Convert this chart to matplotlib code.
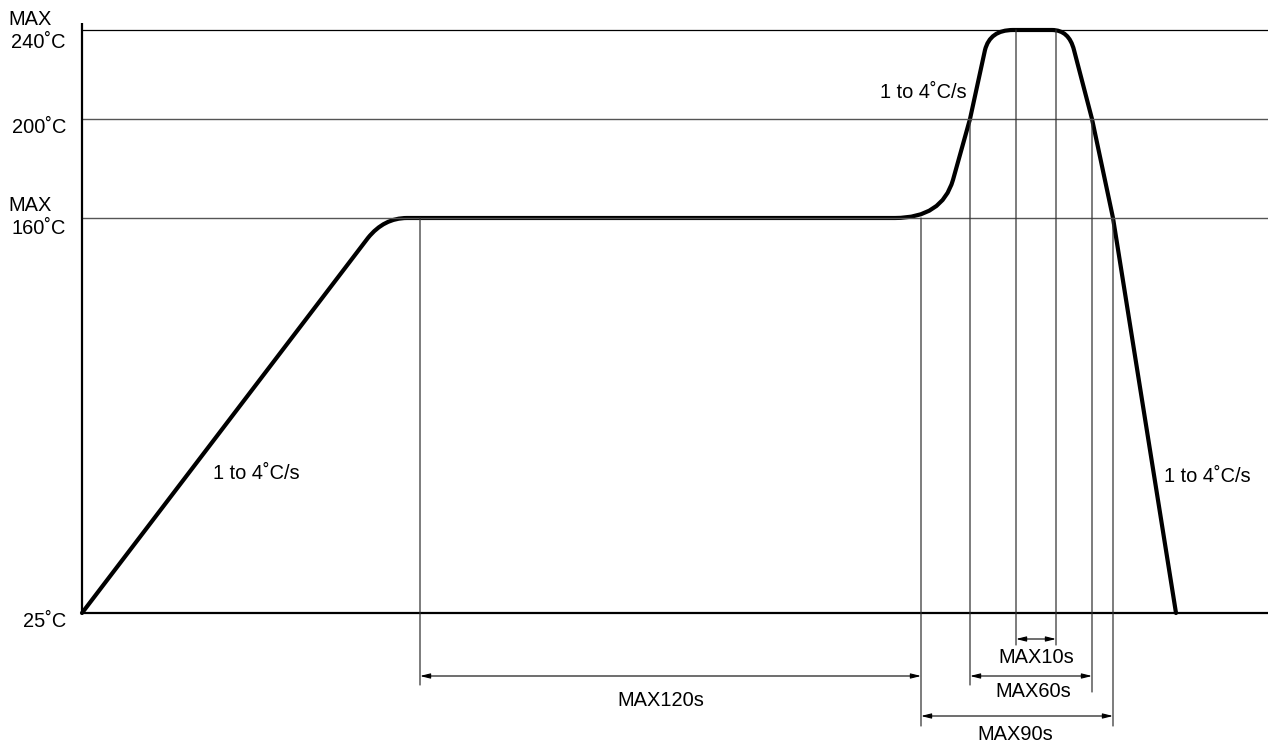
import matplotlib
matplotlib.use('Agg')
import matplotlib.pyplot as plt
import numpy as np
from matplotlib.path import Path
from matplotlib.patches import PathPatch

plt.rcParams['font.family'] = ['Liberation Sans', 'DejaVu Sans']
FS = 14.4

# temperature levels of the profile and their (schematic) height on the drawing
levels = [25, 160, 200, 240]
level_h = [0, 395, 494, 583]
level_labels = ['25˚C', '160˚C', '200˚C', '240˚C']

# reflow profile (schematic time units, °C) and path codes (CURVE3 = rounded corner)
prof_t = [0, 286, 302, 325, 813, 860, 871, 888, 903, 908, 931, 970, 987, 992, 1010, 1031, 1094]
prof_T = [25, 153.2, 160, 160, 160, 160, 175.4, 200, 231, 240, 240, 240, 240, 231, 200, 160, 25]
prof_codes = ['M', 'L', 'C', 'C', 'L', 'C', 'C', 'L', 'L', 'C', 'C', 'L', 'C', 'C', 'L', 'L', 'L']

# marker lines: time, temperature where they start
mark_t = [338, 839, 888, 934, 974, 1010, 1031]
mark_T = [160, 160, 200, 240, 240, 200, 160]

# time windows (start, end, label)
win_start = [338, 839, 888, 934]
win_end = [839, 1031, 1010, 974]
win_labels = ['MAX120s', 'MAX90s', 'MAX60s', 'MAX10s']

slope_labels = ['1 to 4˚C/s', '1 to 4˚C/s', '1 to 4˚C/s']

T = np.array(levels, float)
H = np.array(level_h, float)


def to_h(t):
    t = np.asarray(t, float)
    lo = H[0] + (t - T[0]) * (H[1] - H[0]) / (T[1] - T[0])
    hi = H[-1] + (t - T[-1]) * (H[-1] - H[-2]) / (T[-1] - T[-2])
    return np.where(t < T[0], lo, np.where(t > T[-1], hi, np.interp(t, T, H)))


def from_h(h):
    h = np.asarray(h, float)
    lo = T[0] + (h - H[0]) * (T[1] - T[0]) / (H[1] - H[0])
    hi = T[-1] + (h - H[-1]) * (T[-1] - T[-2]) / (H[-1] - H[-2])
    return np.where(h < H[0], lo, np.where(h > H[-1], hi, np.interp(h, H, T)))


fig = plt.figure(figsize=(12.68, 7.43), dpi=100)
ax = fig.add_axes([0, 0, 1, 1])
ax.set_yscale('function', functions=(to_h, from_h))
ax.set_xlim(-82, 1186)
ax.set_ylim(float(from_h(-130)), float(from_h(613)))
ax.axis('off')

xmax = ax.get_xlim()[1]
trans = ax.get_xaxis_transform()


def yf(pix):
    # vertical position as axes fraction (for dimension lines below the axis)
    return 1 - pix / 743.0


# horizontal reference lines
ax.hlines(240, 0, xmax, color='black', lw=0.9)
ax.hlines([200, 160], 0, xmax, color='#555555', lw=1.0)
ax.hlines(25, 0, xmax, color='black', lw=1.6)
ax.vlines(0, 25, 243.1, color='black', lw=1.6)

# marker verticals
mark_bottom = [685, 726, 685, 645, 645, 692, 726]
for t, temp, b in zip(mark_t, mark_T, mark_bottom):
    ax.annotate('', xy=(t, temp), xycoords='data', xytext=(t, yf(b)), textcoords=trans,
                arrowprops=dict(arrowstyle='-', lw=0.9, color='#333333', shrinkA=0, shrinkB=0))

# profile curve
code_map = {'M': Path.MOVETO, 'L': Path.LINETO, 'C': Path.CURVE3}
path = Path(np.column_stack([prof_t, prof_T]), [code_map[c] for c in prof_codes])
ax.add_patch(PathPatch(path, fill=False, lw=3.0, edgecolor='black',
                       capstyle='round', joinstyle='round'))

# time windows
arrow_y = [676, 716, 676, 639]
text_x = [579, 933, 951, 954]
text_base = [706, 740, 697, 663]
for s, e, lab, ay, tx, tb in zip(win_start, win_end, win_labels, arrow_y, text_x, text_base):
    ax.annotate('', xy=(e, yf(ay)), xycoords=trans, xytext=(s, yf(ay)), textcoords=trans,
                arrowprops=dict(arrowstyle='<|-|>,head_length=0.6,head_width=0.15',
                                lw=0.8, color='black', shrinkA=0, shrinkB=0, mutation_scale=10))
    ax.text(tx, yf(tb), lab, transform=trans, ha='center', va='baseline', fontsize=FS)

# temperature labels
lab_dy = [14, 16, 14, 18]
for temp, lab, dy in zip(levels, level_labels, lab_dy):
    ax.annotate(lab, xy=(0, temp), xytext=(-16, -dy), textcoords='offset pixels',
                ha='right', va='baseline', fontsize=FS)
for temp, dy in [(240, 5), (160, 7)]:
    ax.annotate('MAX', xy=(0, temp), xytext=(-74, dy), textcoords='offset pixels',
                ha='left', va='baseline', fontsize=FS)

# slope labels
ax.text(131, 70.8, slope_labels[0], ha='left', va='baseline', fontsize=FS)
ax.text(885, 209.4, slope_labels[1], ha='right', va='baseline', fontsize=FS)
ax.text(1082, 69.8, slope_labels[2], ha='left', va='baseline', fontsize=FS)

fig.savefig('out.png', dpi=100)
